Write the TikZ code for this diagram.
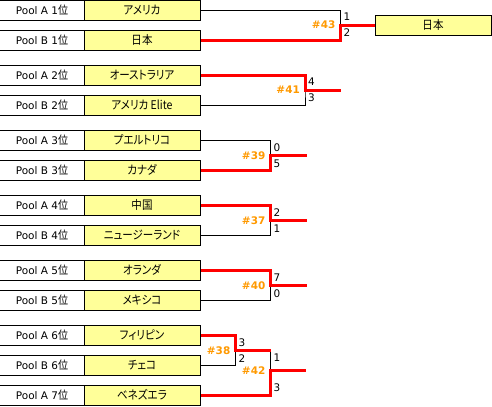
\documentclass[tikz,border=0pt]{standalone}
\usepackage{fontspec}
\setmainfont{DejaVu Sans}
\newfontfamily\jpfont{Noto Sans CJK JP}[RawFeature=+palt, FakeStretch=0.88]
\usepackage{tikz}
\usetikzlibrary{positioning}

\definecolor{cellyellow}{HTML}{FFFF99}
\definecolor{gameorange}{HTML}{FF9900}

\tikzset{
	cell/.style={draw, line width=1bp, minimum height=20bp, inner sep=0pt, font=\fontsize{10.5}{13}\selectfont},
	poolcell/.style={cell, minimum width=84bp},
	teamcell/.style={cell, fill=cellyellow, minimum width=116bp, font=\jpfont\fontsize{12}{14}\selectfont},
	bracket/.style={line width=1bp},
	win/.style={draw=red, line width=3bp},
	game/.style={anchor=east, inner sep=0pt, text=gameorange, font=\bfseries\fontsize{10.5}{12}\selectfont},
	score/.style={anchor=west, inner sep=0pt, font=\fontsize{10.5}{13}\selectfont}
}

\begin{document}
\begin{tikzpicture}[x=1bp, y=-1bp]
		\useasboundingbox (0,0) rectangle (492,406);
		\foreach \i/\y/\pl/\rk/\team in {1/10/A/1/アメリカ, 2/40/B/1/日本, 3/75/A/2/オーストラリア, 4/105/B/2/アメリカ Elite, 5/140/A/3/プエルトリコ, 6/170/B/3/カナダ, 7/205/A/4/中国, 8/235/B/4/ニュージーランド, 9/270/A/5/オランダ, 10/300/B/5/メキシコ, 11/335/A/6/フィリピン, 12/365/B/6/チェコ, 13/395/A/7/ベネズエラ}
		{
			\node[poolcell] (p\i) at (42,\y) {Pool \pl\ \rk{\jpfont\fontsize{11.5}{13}\selectfont 位}};
			\node[teamcell] (t\i) at (142,\y) {\team};
		}
		\node[teamcell] (champ) at (433,25) {日本};
		\coordinate (j43) at (340.5,25);
		\coordinate (j41) at (305,90);
		\coordinate (j39) at (270.5,155.5);
		\coordinate (j37) at (270.5,220.5);
		\coordinate (j40) at (270.5,285.5);
		\coordinate (j38) at (235.5,350.5);
		\coordinate (j42) at (270.5,370.5);
		\coordinate (e41) at (341,90);
		\coordinate (e39) at (306.5,155.5);
		\coordinate (e37) at (306.5,220.5);
		\coordinate (e40) at (306.5,285.5);
		\coordinate (e42) at (306,370.5);
		\foreach \j/\a/\b in {j43/t1/t2, j41/t3/t4, j39/t5/t6, j37/t7/t8, j40/t9/t10, j38/t11/t12}
		\draw[bracket] (\a.east) -| (\j) |- (\b.east);
		\draw[bracket] (j38) -| (j42) |- (t13.east);
		\draw[win] (t2.east) -| (j43) -- (champ.west);
		\draw[win] (t3.east) -| (j41) -- (e41);
		\draw[win] (t6.east) -| (j39) -- (e39);
		\draw[win] (t7.east) -| (j37) -- (e37);
		\draw[win] (t9.east) -| (j40) -- (e40);
		\draw[win] (t11.east) -| (j38) -- (j38 -| j42);
		\draw[win] (t13.east) -| (j42) -- (e42);
		\foreach \j/\n in {j43/43, j41/41, j39/39, j37/37, j40/40, j38/38, j42/42}
		\node[game] (g\n) at ([xshift=-5bp]\j) {\#\n};
		\foreach \j/\a/\b in {j43/1/2, j41/4/3, j39/0/5, j37/2/1, j40/7/0, j38/3/2}
		{
			\node[score] (\j hi) at ([xshift=3bp, yshift=8bp]\j) {\a};
			\node[score] (\j lo) at ([xshift=3bp, yshift=-8bp]\j) {\b};
		}
		\node[score] (j42hi) at ([xshift=3bp, yshift=12.5bp]j42) {1};
		\node[score] (j42lo) at ([xshift=3bp, yshift=-17.5bp]j42) {3};
	\end{tikzpicture}
\end{document}
